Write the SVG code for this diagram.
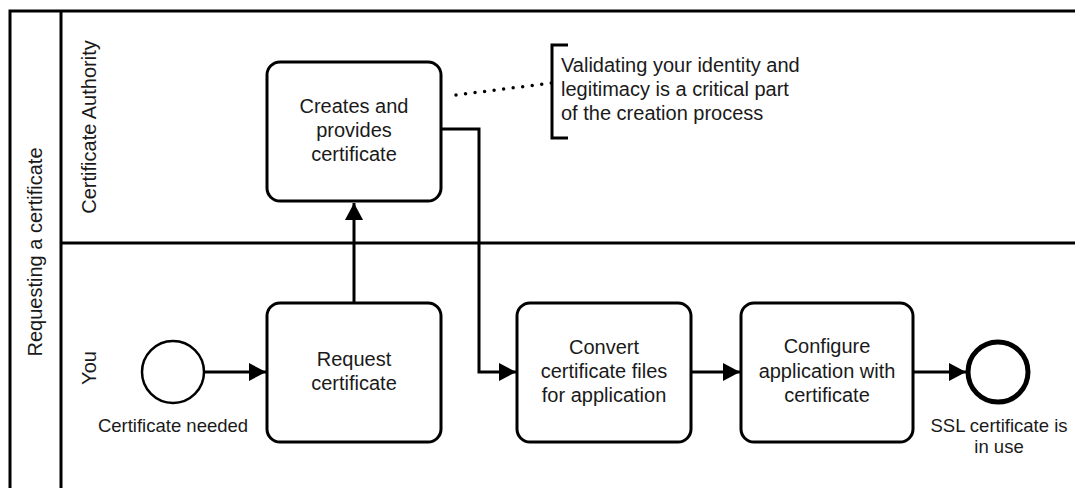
<svg xmlns="http://www.w3.org/2000/svg" width="1075" height="488" viewBox="0 0 1075 488">
  <style>
    .frame { fill: none; stroke: #000; stroke-width: 3; }
    .task { fill: #fff; stroke: #000; stroke-width: 3; }
    .flow { fill: none; stroke: #000; stroke-width: 3; }
    .label { font-family: "Liberation Sans", Arial, sans-serif; font-size: 20px; fill: #1a1a1a; text-anchor: middle; }
    .small { font-size: 18.5px; }
    .note { text-anchor: start; }
  </style>
  <defs>
    <marker id="arrow" markerUnits="userSpaceOnUse" markerWidth="18" markerHeight="18" refX="17" refY="9" orient="auto">
      <path d="M0,0 L17,9 L0,18 z" fill="#000"/>
    </marker>
  </defs>

  <rect width="1075" height="488" fill="#fff"/>

  <!-- pool with its two lanes -->
  <g id="pool">
    <path class="frame" d="M1080 11 H10 V500 M61 11 V500 M61 243 H1080"/>
    <text class="label" transform="rotate(-90 42 252)" x="42" y="252">Requesting a certificate</text>
  </g>
  <g id="lane-ca">
    <text class="label" transform="rotate(-90 96 127)" x="96" y="127">Certificate Authority</text>
  </g>
  <g id="lane-you">
    <text class="label" transform="rotate(-90 96 368)" x="96" y="368">You</text>
  </g>

  <!-- sequence flows and the dotted association -->
  <g id="connectors">
    <path class="flow" d="M204 372 H266" marker-end="url(#arrow)"/>
    <path class="flow" d="M354 303 V203" marker-end="url(#arrow)"/>
    <path class="flow" d="M441 129 H479 V372 H516" marker-end="url(#arrow)"/>
    <path class="flow" d="M691 372 H740" marker-end="url(#arrow)"/>
    <path class="flow" d="M913 372 H966" marker-end="url(#arrow)"/>
    <path d="M456 95 L552 83" fill="none" stroke="#000" stroke-width="3.5" stroke-linecap="round" stroke-dasharray="0 9.6"/>
  </g>

  <g id="start-event">
    <circle cx="173" cy="372" r="31" fill="#fff" stroke="#000" stroke-width="2.5"/>
    <text class="label small" x="173" y="432">Certificate needed</text>
  </g>

  <g id="task-create">
    <rect class="task" x="267" y="62" width="174" height="139" rx="13"/>
    <text class="label" x="354" y="113">Creates and</text>
    <text class="label" x="354" y="137">provides</text>
    <text class="label" x="354" y="161">certificate</text>
  </g>

  <g id="task-request">
    <rect class="task" x="267" y="303" width="174" height="139" rx="13"/>
    <text class="label" x="354" y="366">Request</text>
    <text class="label" x="354" y="390">certificate</text>
  </g>

  <g id="task-convert">
    <rect class="task" x="517" y="303" width="174" height="139" rx="13"/>
    <text class="label" x="604" y="354">Convert</text>
    <text class="label" x="604" y="378">certificate files</text>
    <text class="label" x="604" y="402">for application</text>
  </g>

  <g id="task-configure">
    <rect class="task" x="741" y="303" width="172" height="139" rx="13"/>
    <text class="label" x="827" y="353">Configure</text>
    <text class="label" x="827" y="378">application with</text>
    <text class="label" x="827" y="402">certificate</text>
  </g>

  <g id="end-event">
    <circle cx="998" cy="372" r="30" fill="#fff" stroke="#000" stroke-width="5"/>
    <text class="label small" x="999" y="432">SSL certificate is</text>
    <text class="label small" x="999" y="453">in use</text>
  </g>

  <g id="annotation">
    <path class="frame" d="M568 45 H552 V138 H568"/>
    <text class="label note" x="561" y="72">Validating your identity and</text>
    <text class="label note" x="561" y="96">legitimacy is a critical part</text>
    <text class="label note" x="561" y="120">of the creation process</text>
  </g>
</svg>
